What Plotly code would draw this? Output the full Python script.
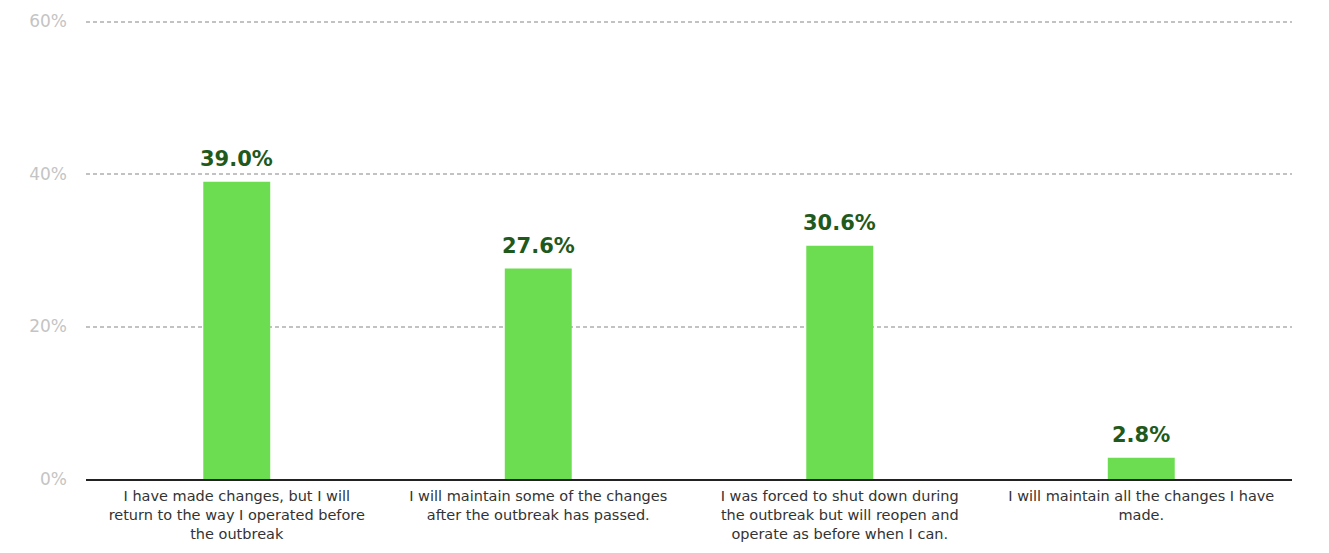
import plotly.graph_objects as go

categories = [
    "I have made changes, but I will<br>return to the way I operated before<br>the outbreak",
    "I will maintain some of the changes<br>after the outbreak has passed.",
    "I was forced to shut down during<br>the outbreak but will reopen and<br>operate as before when I can.",
    "I will maintain all the changes I have<br>made.",
]
values = [39.0, 27.6, 30.6, 2.8]
value_labels = [f"{v:.1f}%" for v in values]
tick_vals = [0, 20, 40, 60]
tick_text = ["0%", "20%", "40%", "60%"]

fig = go.Figure(
    go.Bar(
        x=categories,
        y=values,
        marker=dict(color="#6cdd50", line=dict(width=0)),
        width=0.222,
        hoverinfo="skip",
    )
)

for c, v, t in zip(categories, values, value_labels):
    fig.add_annotation(
        x=c, y=v, text=f"<b>{t}</b>", showarrow=False,
        yanchor="bottom", yshift=9,
        font=dict(family="DejaVu Sans", size=21, color="#1f5a1c"),
    )

fig.update_layout(
    width=1313,
    height=537,
    margin=dict(l=78, r=29, t=12, b=66, autoexpand=False),
    paper_bgcolor="white",
    plot_bgcolor="white",
    showlegend=False,
    font=dict(family="DejaVu Sans, sans-serif", color="#333333"),
)
fig.update_xaxes(
    showgrid=False,
    showline=True,
    linecolor="#222222",
    linewidth=2,
    tickfont=dict(size=14.5, color="#333333", family="DejaVu Sans, sans-serif"),
    ticks="",
    automargin=False,
    ticklabelstandoff=3,
)
fig.update_yaxes(
    range=[0, 60.2],
    tickvals=tick_vals,
    ticktext=tick_text,
    showgrid=True,
    gridcolor="#c2c2c2",
    griddash="4px,3px",
    gridwidth=1.5,
    zeroline=False,
    showline=False,
    tickfont=dict(size=17, color="#c4c4c4", family="DejaVu Sans, sans-serif"),
    ticklabelstandoff=18,
    automargin=False,
)

fig.write_html("out.html")
